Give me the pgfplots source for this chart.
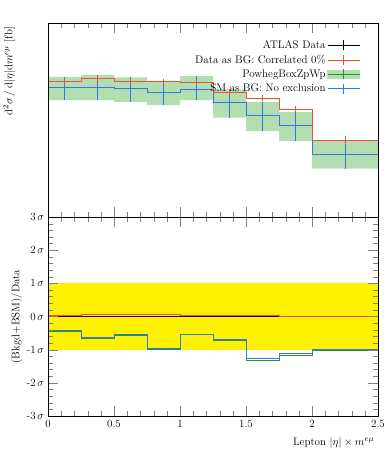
\documentclass[border=0pt]{standalone}
\usepackage{pgfplots}
\pgfplotsset{compat=1.18}
\definecolor{rred}{RGB}{235,80,55}
\definecolor{rblue}{RGB}{50,120,230}
\definecolor{rgreen}{RGB}{40,150,40}
\definecolor{rband}{RGB}{178,222,178}
\pgfplotsset{
  crossleg/.style={legend image code/.code={\draw[##1] (0pt,0pt)--(32pt,0pt); \draw[##1] (16pt,-5pt)--(16pt,5pt);}},
  bandleg/.style={legend image code/.code={\fill[rband] (0pt,-4pt) rectangle (32pt,4pt); \draw[##1] (0pt,0pt)--(32pt,0pt); \draw[##1] (16pt,-5pt)--(16pt,5pt);}},
}
\begin{document}
\fontsize{11}{13}\selectfont
\begin{tikzpicture}
\path[use as bounding box] (0,0) rectangle (389pt,450pt);
% ---------- top panel ----------
\begin{axis}[
  at={(48pt,427pt)}, anchor=north west,
  width=330pt, height=194pt, scale only axis,
  xmin=0, xmax=2.5, ymode=log, ymin=2, ymax=10,
  xtick={0,0.5,...,2.5}, minor x tick num=4, xticklabel=\empty,
  ytick=\empty, minor ytick={3,4,5,6,7,8,9},
  tick align=inside, xtick pos=both, ytick pos=both,
  major tick length=10pt, minor tick length=5pt,
  axis on top,
  ylabel={d$^2\sigma\,/\,$d$|\eta|$d$m^{e\mu}$ [fb]},
  ylabel style={at={(axis description cs:-0.088,1)}, anchor=south east},
  legend style={at={(axis description cs:0.95,0.925)}, anchor=north east, draw=none, fill=none,
    legend cell align=right, row sep=0.8pt, inner sep=1pt},
  legend plot pos=right,
]
\addlegendimage{black, line width=0.8pt, crossleg}
\addlegendentry{ATLAS Data}
\addlegendimage{rred, line width=0.8pt, crossleg}
\addlegendentry{Data as BG: Correlated 0\%}
\addlegendimage{rgreen, line width=0.8pt, bandleg}
\addlegendentry{PowhegBoxZpWp}
\addlegendimage{rblue, line width=0.8pt, crossleg}
\addlegendentry{SM as BG: No exclusion}
% green band
\addplot[fill=rband, draw=none, forget plot] coordinates {
 (0,6.40) (0.25,6.40) (0.25,6.49) (0.5,6.49) (0.5,6.37) (0.75,6.37) (0.75,6.19) (1,6.19)
 (1,6.43) (1.25,6.43) (1.25,5.76) (1.5,5.76) (1.5,5.20) (1.75,5.20) (1.75,4.77) (2,4.77)
 (2,3.78) (2.5,3.78)
 (2.5,2.99) (2,2.99) (2,3.76) (1.75,3.76) (1.75,4.08) (1.5,4.08) (1.5,4.56) (1.25,4.56)
 (1.25,5.27) (1,5.27) (1,5.06) (0.75,5.06) (0.75,5.20) (0.5,5.20) (0.5,5.27) (0.25,5.27)
 (0.25,5.27) (0,5.27)} -- cycle;
% green central
\addplot[rgreen, line width=0.8pt, const plot mark left, forget plot] coordinates {
 (0,5.86) (0.25,5.87) (0.5,5.81) (0.75,5.60) (1,5.76) (1.25,5.17) (1.5,4.63) (1.75,4.27) (2,3.37) (2.5,3.37)};
% blue
\addplot[rblue, line width=0.8pt, const plot mark left, forget plot] coordinates {
 (0,5.86) (0.25,5.87) (0.5,5.81) (0.75,5.60) (1,5.76) (1.25,5.17) (1.5,4.63) (1.75,4.27) (2,3.37) (2.5,3.37)};
\addplot[draw=none, mark=none, forget plot, error bars/.cd, y dir=both, y explicit,
  error mark=none, error bar style={rblue, line width=0.8pt}] coordinates {
 (0.125,5.86) += (0,0.54) -= (0,0.59)
 (0.375,5.87) += (0,0.62) -= (0,0.60)
 (0.625,5.81) += (0,0.56) -= (0,0.61)
 (0.875,5.60) += (0,0.59) -= (0,0.54)
 (1.125,5.76) += (0,0.67) -= (0,0.49)
 (1.375,5.17) += (0,0.59) -= (0,0.61)
 (1.625,4.63) += (0,0.57) -= (0,0.55)
 (1.875,4.27) += (0,0.50) -= (0,0.51)
 (2.25,3.37) += (0,0.41) -= (0,0.38)};
% black data
\addplot[black, line width=0.8pt, const plot mark left, forget plot] coordinates {
 (0,6.14) (0.25,6.29) (0.5,6.18) (0.75,6.14) (1,6.12) (1.25,5.62) (1.5,5.37) (1.75,4.88) (2,3.78) (2.5,3.78)};
\addplot[draw=none, mark=none, forget plot, error bars/.cd, y dir=both, y explicit,
  error mark=none, error bar style={black, line width=0.8pt}] coordinates {
 (0.125,6.14) +- (0,0.15) (0.375,6.29) +- (0,0.15) (0.625,6.18) +- (0,0.15)
 (0.875,6.14) +- (0,0.16) (1.125,6.12) +- (0,0.15) (1.375,5.62) +- (0,0.15)
 (1.625,5.37) +- (0,0.14) (1.875,4.88) +- (0,0.14) (2.25,3.78) +- (0,0.12)};
% red
\addplot[rred, line width=0.8pt, const plot mark left, forget plot] coordinates {
 (0,6.14) (0.25,6.29) (0.5,6.18) (0.75,6.14) (1,6.12) (1.25,5.62) (1.5,5.37) (1.75,4.88) (2,3.78) (2.5,3.78)};
\addplot[draw=none, mark=none, forget plot, error bars/.cd, y dir=both, y explicit,
  error mark=none, error bar style={rred, line width=0.8pt}] coordinates {
 (0.125,6.14) +- (0,0.15) (0.375,6.29) +- (0,0.15) (0.625,6.18) +- (0,0.15)
 (0.875,6.14) +- (0,0.16) (1.125,6.12) +- (0,0.15) (1.375,5.62) +- (0,0.15)
 (1.625,5.37) +- (0,0.14) (1.875,4.88) +- (0,0.14) (2.25,3.78) +- (0,0.12)};
\end{axis}
% ---------- ratio panel ----------
\begin{axis}[
  at={(48pt,233pt)}, anchor=north west,
  width=330pt, height=199pt, scale only axis,
  xmin=0, xmax=2.5, ymin=-3, ymax=3,
  xtick={0,0.5,...,2.5}, minor x tick num=4,
  xticklabels={0,0.5,1,1.5,2,2.5},
  ytick={-3,-2,-1,0,1,2,3}, minor y tick num=4,
  yticklabels={-3\,$\sigma$,-2\,$\sigma$,-1\,$\sigma$,0\,$\sigma$,1\,$\sigma$,2\,$\sigma$,3\,$\sigma$},
  tick align=inside, xtick pos=both, ytick pos=both,
  xticklabel pos=bottom, yticklabel pos=left,
  major tick length=10pt, minor tick length=5pt,
  axis on top,
  xlabel={Lepton $|\eta|\times m^{e\mu}$},
  xlabel style={at={(rel axis cs:1,0)}, anchor=north east, yshift=-17pt},
  ylabel={(Bkgd+BSM)/Data},
  ylabel style={yshift=-3pt},
]
\addplot[fill=yellow, draw=none] coordinates {(0,-1) (2.5,-1) (2.5,1) (0,1)} -- cycle;
\addplot[black!80!red, line width=1pt] coordinates {(0,0) (2.5,0)};
\addplot[rred, line width=0.8pt, const plot mark left] coordinates {
 (0,0.04) (0.25,0.06) (0.5,0.05) (0.75,0.07) (1,0.04) (1.25,0.03) (1.5,0.04) (1.75,0.01) (2,0.0) (2.5,0.0)};
\addplot[rgreen, line width=0.8pt, const plot mark left] coordinates {
 (0,-0.45) (0.25,-0.66) (0.5,-0.56) (0.75,-1.00) (1,-0.55) (1.25,-0.72) (1.5,-1.31) (1.75,-1.16) (2,-1.02) (2.5,-1.02)};
\addplot[rblue, line width=0.8pt, const plot mark left] coordinates {
 (0,-0.43) (0.25,-0.63) (0.5,-0.53) (0.75,-0.96) (1,-0.53) (1.25,-0.69) (1.5,-1.27) (1.75,-1.12) (2,-0.99) (2.5,-0.99)};
\end{axis}
\end{tikzpicture}
\end{document}
